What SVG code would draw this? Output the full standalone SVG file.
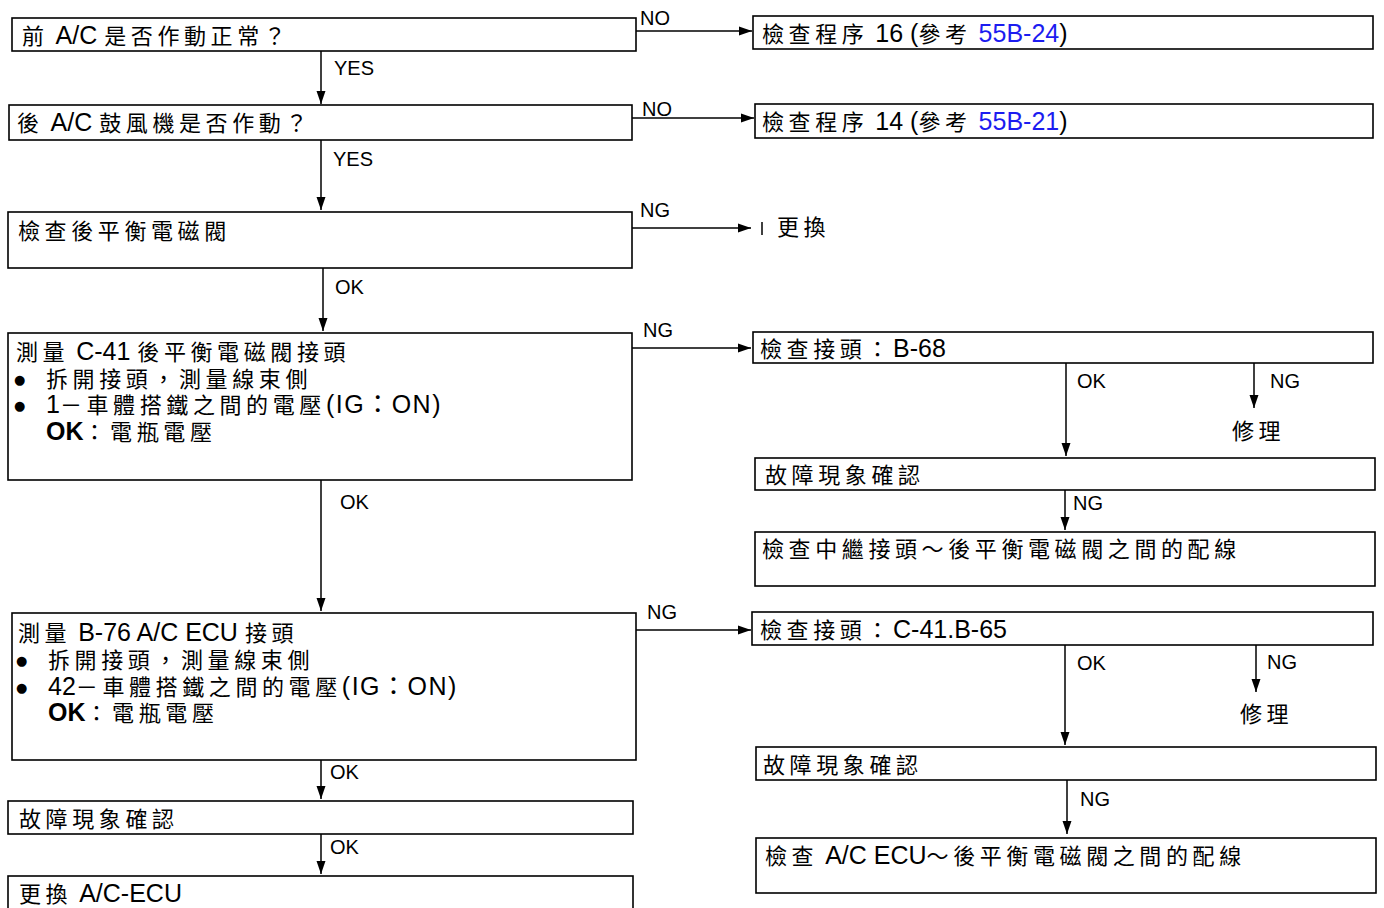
<svg xmlns="http://www.w3.org/2000/svg" width="1384" height="908" viewBox="0 0 1384 908">
<style>
.box{fill:#fff;stroke:#000;stroke-width:1.6}
.t{font-family:"Liberation Sans","Noto Sans CJK TC",sans-serif;font-size:22px;fill:#000}
.c{letter-spacing:4.6px}
.l{font-size:25px;letter-spacing:0}
.ig{letter-spacing:1.5px}
.b{font-weight:bold}
.blue{fill:#1c1cf0}
.bul{font-family:"DejaVu Sans",sans-serif;font-size:13px;fill:#000}
.lab{font-family:"Liberation Sans",sans-serif;font-size:20px;fill:#000}
.ln{stroke:#000;stroke-width:1.5;fill:none}
</style>
<defs>
<marker id="ah" markerWidth="13" markerHeight="10" refX="13" refY="5" orient="auto" markerUnits="userSpaceOnUse"><path d="M0,0.5 L13,5 L0,9.5 z" fill="#000"/></marker>
</defs>
<rect width="1384" height="908" fill="#fff"/>

<g id="connectors">
<path class="ln" d="M636,31 H752" marker-end="url(#ah)"/>
<path class="ln" d="M321,51 V104" marker-end="url(#ah)"/>
<path class="ln" d="M632,118 H754" marker-end="url(#ah)"/>
<path class="ln" d="M321,140 V210" marker-end="url(#ah)"/>
<path class="ln" d="M632,228 H751" marker-end="url(#ah)"/>
<path class="ln" d="M323,268 V331" marker-end="url(#ah)"/>
<path class="ln" d="M632,348 H751" marker-end="url(#ah)"/>
<path class="ln" d="M1066,363 V456" marker-end="url(#ah)"/>
<path class="ln" d="M1254,363 V408" marker-end="url(#ah)"/>
<path class="ln" d="M1065,490 V530" marker-end="url(#ah)"/>
<path class="ln" d="M321,480 V611" marker-end="url(#ah)"/>
<path class="ln" d="M636,630 H751" marker-end="url(#ah)"/>
<path class="ln" d="M1065,645 V745" marker-end="url(#ah)"/>
<path class="ln" d="M1256,645 V692" marker-end="url(#ah)"/>
<path class="ln" d="M1067,780 V834" marker-end="url(#ah)"/>
<path class="ln" d="M321,760 V799" marker-end="url(#ah)"/>
<path class="ln" d="M321,834 V874" marker-end="url(#ah)"/>
<text class="lab" x="640" y="25">NO</text>
<text class="lab" x="334" y="75">YES</text>
<text class="lab" x="642" y="116">NO</text>
<text class="lab" x="333" y="166">YES</text>
<text class="lab" x="640" y="217">NG</text>
<text class="lab" x="335" y="294">OK</text>
<text class="lab" x="643" y="337">NG</text>
<text class="lab" x="1077" y="388">OK</text>
<text class="lab" x="1270" y="388">NG</text>
<text class="lab" x="1073" y="510">NG</text>
<text class="lab" x="340" y="509">OK</text>
<text class="lab" x="647" y="619">NG</text>
<text class="lab" x="1077" y="670">OK</text>
<text class="lab" x="1267" y="669">NG</text>
<text class="lab" x="1080" y="806">NG</text>
<text class="lab" x="330" y="779">OK</text>
<text class="lab" x="330" y="854">OK</text>
</g>

<g id="n1">
<rect class="box" x="12" y="18" width="624" height="33"/>
<text class="t" x="22" y="44"><tspan class="c">前</tspan><tspan class="l"> A/C </tspan><tspan class="c">是否作動正常？</tspan></text>
</g>
<g id="n1no">
<rect class="box" x="753" y="16" width="620" height="33"/>
<text class="t" x="762" y="42"><tspan class="c">檢查程序</tspan><tspan class="l"> 16 (</tspan><tspan class="c">參考</tspan><tspan class="l"> </tspan><tspan class="l blue">55B-24</tspan><tspan class="l">)</tspan></text>
</g>
<g id="n2">
<rect class="box" x="9" y="105" width="623" height="35"/>
<text class="t" x="17" y="131"><tspan class="c">後</tspan><tspan class="l"> A/C </tspan><tspan class="c">鼓風機是否作動？</tspan></text>
</g>
<g id="n2no">
<rect class="box" x="755" y="104" width="618" height="34"/>
<text class="t" x="762" y="130"><tspan class="c">檢查程序</tspan><tspan class="l"> 14 (</tspan><tspan class="c">參考</tspan><tspan class="l"> </tspan><tspan class="l blue">55B-21</tspan><tspan class="l">)</tspan></text>
</g>
<g id="n3">
<rect class="box" x="8" y="212" width="624" height="56"/>
<text class="t c" x="18" y="239">檢查後平衡電磁閥</text>
</g>
<g id="n3ng">
<path class="ln" d="M762,222 V235"/>
<text class="t c" x="777" y="235">更換</text>
</g>
<g id="n4">
<rect class="box" x="8" y="333" width="624" height="147"/>
<text class="t" x="16" y="360"><tspan class="c">測量</tspan><tspan class="l"> C-41 </tspan><tspan class="c">後平衡電磁閥接頭</tspan></text>
<text class="bul" x="14" y="384">●</text>
<text class="t c" x="46" y="387">拆開接頭，測量線束側</text>
<text class="bul" x="14" y="410">●</text>
<text class="t" x="46" y="413"><tspan class="l">1</tspan><tspan class="c">－車體搭鐵之間的電壓</tspan><tspan class="l ig">(IG：ON)</tspan></text>
<text class="t" x="46" y="440"><tspan class="l b">OK</tspan><tspan class="c">：電瓶電壓</tspan></text>
</g>
<g id="n4ng">
<rect class="box" x="753" y="332" width="620" height="31"/>
<text class="t" x="760" y="357"><tspan class="c">檢查接頭：</tspan><tspan class="l">B-68</tspan></text>
</g>
<g id="n4rep">
<text class="t c" x="1232" y="439">修理</text>
</g>
<g id="n4chk">
<rect class="box" x="755" y="458" width="620" height="32"/>
<text class="t c" x="765" y="483">故障現象確認</text>
</g>
<g id="n4wire">
<rect class="box" x="755" y="532" width="620" height="54"/>
<text class="t c" x="762" y="557">檢查中繼接頭～後平衡電磁閥之間的配線</text>
</g>
<g id="n5">
<rect class="box" x="12" y="613" width="624" height="147"/>
<text class="t" x="18" y="641"><tspan class="c">測量</tspan><tspan class="l"> B-76 A/C ECU </tspan><tspan class="c">接頭</tspan></text>
<text class="bul" x="16" y="665">●</text>
<text class="t c" x="48" y="668">拆開接頭，測量線束側</text>
<text class="bul" x="16" y="692">●</text>
<text class="t" x="48" y="695"><tspan class="l">42</tspan><tspan class="c">－車體搭鐵之間的電壓</tspan><tspan class="l ig">(IG：ON)</tspan></text>
<text class="t" x="48" y="721"><tspan class="l b">OK</tspan><tspan class="c">：電瓶電壓</tspan></text>
</g>
<g id="n5ng">
<rect class="box" x="752" y="612" width="621" height="33"/>
<text class="t" x="760" y="638"><tspan class="c">檢查接頭：</tspan><tspan class="l">C-41.B-65</tspan></text>
</g>
<g id="n5rep">
<text class="t c" x="1240" y="722">修理</text>
</g>
<g id="n5chk">
<rect class="box" x="756" y="747" width="620" height="33"/>
<text class="t c" x="763" y="773">故障現象確認</text>
</g>
<g id="n5wire">
<rect class="box" x="756" y="838" width="620" height="55"/>
<text class="t" x="765" y="864"><tspan class="c">檢查</tspan><tspan class="l"> A/C ECU</tspan><tspan class="c">～後平衡電磁閥之間的配線</tspan></text>
</g>
<g id="n6">
<rect class="box" x="8" y="801" width="625" height="33"/>
<text class="t c" x="19" y="827">故障現象確認</text>
</g>
<g id="n7">
<rect class="box" x="8" y="876" width="625" height="40"/>
<text class="t" x="19" y="902"><tspan class="c">更換</tspan><tspan class="l"> A/C-ECU</tspan></text>
</g>
</svg>
